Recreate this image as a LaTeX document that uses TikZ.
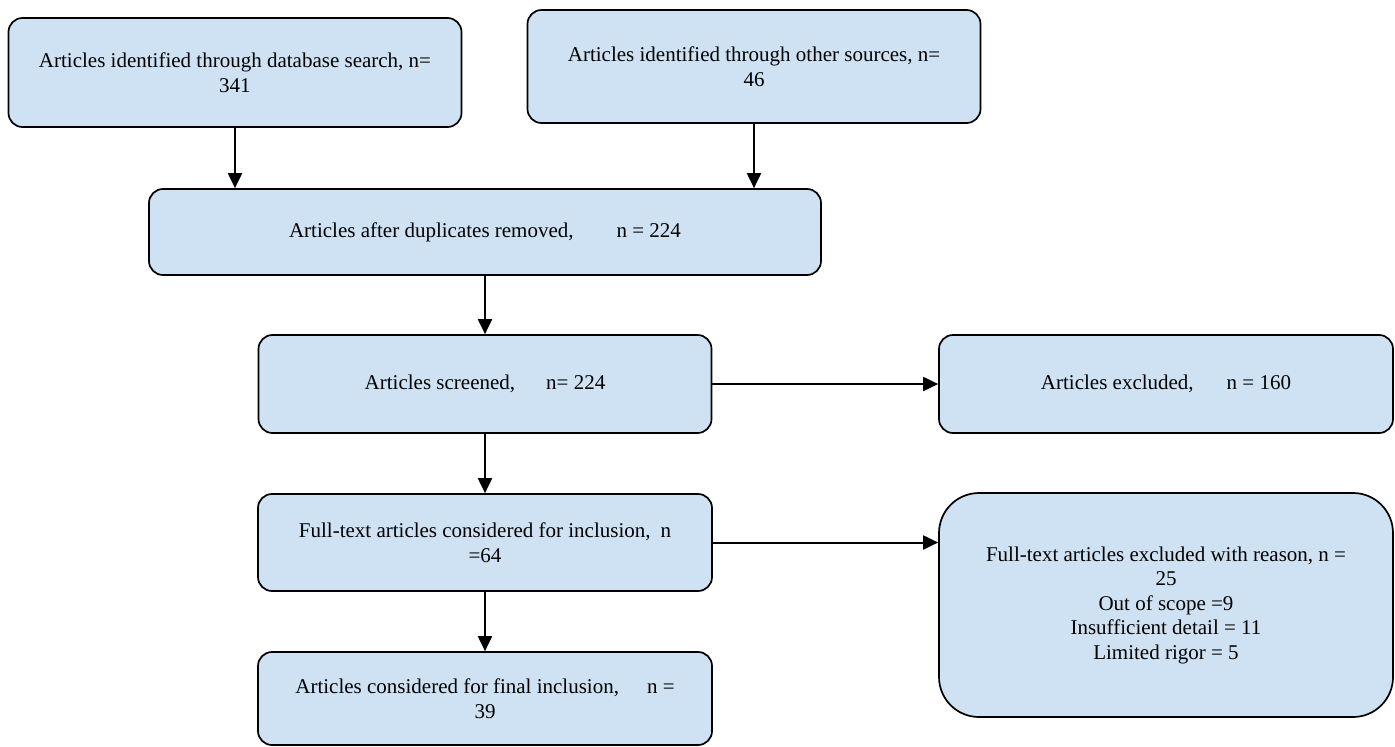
\documentclass[tikz,border=0pt]{standalone}
\usepackage{fontspec}
\setmainfont{Liberation Serif}
\usetikzlibrary{arrows.meta}
\definecolor{boxfill}{RGB}{207,226,243}
\tikzset{
  x=1pt, y=-1pt,
  box/.style={draw=black, line width=1.7pt, fill=boxfill, rounded corners=14pt,
    align=center, inner sep=0pt, font=\fontsize{21}{24.5}\selectfont},
  bigbox/.style={box, rounded corners=40pt},
  conn/.style={line width=2pt, -{Triangle[length=15pt,width=14pt]}}
}
\begin{document}
\begin{tikzpicture}
\useasboundingbox (0,0) rectangle (1395,747);
\node[box, minimum width=453pt, minimum height=109pt] (b1) at (235,72.5)
  {Articles identified through database search, n=\\341};
\node[box, minimum width=453pt, minimum height=113pt] (b2) at (754,66.5)
  {Articles identified through other sources, n=\\46};
\node[box, minimum width=672pt, minimum height=86pt] (b3) at (485,232)
  {Articles after duplicates removed,\hspace{43pt}n = 224};
\node[box, minimum width=453pt, minimum height=98pt] (b4) at (485,384)
  {Articles screened,\hspace{31pt}n= 224};
\node[box, minimum width=454pt, minimum height=98pt] (b5) at (1166,384)
  {Articles excluded,\hspace{33pt}n = 160};
\node[box, minimum width=454pt, minimum height=97pt] (b6) at (485,542.5)
  {Full-text articles considered for inclusion,\hspace{10pt}n\\=64};
\node[bigbox, minimum width=454pt, minimum height=224pt] (b7) at (1166,605)
  {Full-text articles excluded with reason, n =\\25\\Out of scope =9\\Insufficient detail = 11\\Limited rigor = 5};
\node[box, minimum width=454pt, minimum height=93pt] (b8) at (485,698.5)
  {Articles considered for final inclusion,\hspace{28pt}n =\\39};
\draw[conn] (b1.south) -- (b1.south |- b3.north);
\draw[conn] (b2.south) -- (b2.south |- b3.north);
\draw[conn] (b3.south) -- (b3.south |- b4.north);
\draw[conn] (b4.south) -- (b4.south |- b6.north);
\draw[conn] (b6.south) -- (b6.south |- b8.north);
\draw[conn] (b4.east) -- (b4.east -| b5.west);
\draw[conn] (b6.east) -- (b6.east -| b7.west);
\end{tikzpicture}
\end{document}
